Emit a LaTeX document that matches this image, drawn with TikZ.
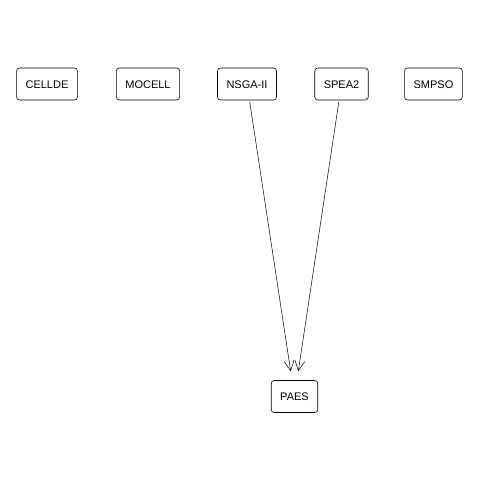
\documentclass[tikz,border=0pt]{standalone}
\usepackage{fontspec}
\setmainfont{Liberation Sans}
\usetikzlibrary{arrows.meta}
\begin{document}
\begin{tikzpicture}[x=1pt,y=-1pt,
  algo/.style={draw,rounded corners=3pt,line width=0.6pt,font=\fontsize{11}{13}\selectfont,
    inner xsep=9pt,minimum height=32pt,text height=8pt,text depth=0pt},
  dep/.style={line width=0.5pt,-{Straight Barb[length=10pt,width=10pt,line width=0.5pt]},
    shorten <=1.5pt,shorten >=9pt}]
  \useasboundingbox (0,0) rectangle (480,480);
  \node[algo] (cellde) at (47,84) {CELLDE};
  \node[algo] (mocell) at (148,84) {MOCELL};
  \node[algo] (nsga)   at (247,84) {NSGA-II};
  \node[algo] (spea)   at (341.5,84) {SPEA2};
  \node[algo] (smpso)  at (433.5,84) {SMPSO};
  \node[algo] (paes)   at (294.5,396.5) {PAES};
  \draw[dep] (nsga) -- (paes);
  \draw[dep] (spea) -- (paes);
\end{tikzpicture}
\end{document}
